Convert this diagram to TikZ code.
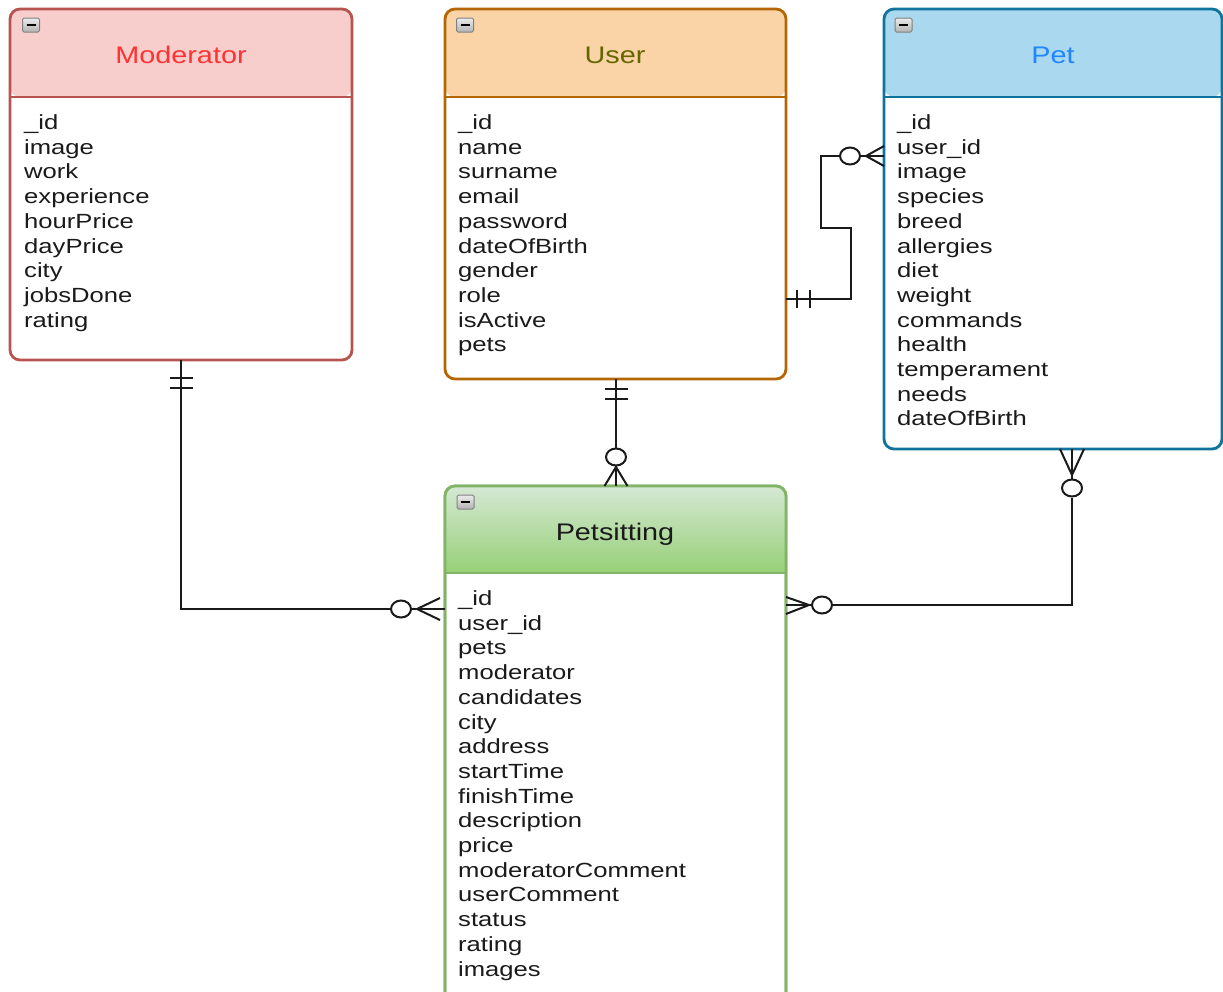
\documentclass[tikz,border=0pt]{standalone}
\usepackage{fontspec}
\setmainfont{Liberation Sans}[FakeStretch=1.25]
\newfontfamily\titlefont{Liberation Sans}[FakeStretch=1.2]
\usetikzlibrary{shapes.geometric,calc}
\definecolor{modfill}{HTML}{F8CECC}
\definecolor{modline}{HTML}{B85450}
\definecolor{modtext}{HTML}{FF3333}
\definecolor{usrfill}{HTML}{FAD3A6}
\definecolor{usrline}{HTML}{B46504}
\definecolor{usrtext}{HTML}{666600}
\definecolor{petfill}{HTML}{AAD8EE}
\definecolor{petline}{HTML}{10739E}
\definecolor{pettext}{HTML}{1F86FF}
\definecolor{pstop}{HTML}{D5E8D4}
\definecolor{psbot}{HTML}{97D077}
\definecolor{psline}{HTML}{82B366}
\definecolor{ink}{HTML}{1A1A1A}
\begin{document}
\begin{tikzpicture}[x=1pt,y=-1pt,
  entity/.style={draw=#1, line width=2.8pt, rounded corners=10pt, fill=white, inner sep=0pt, outer sep=0pt, anchor=north west},
  hdr/.style={path picture={\fill[#1] (path picture bounding box.north west) rectangle ([yshift=-88pt]path picture bounding box.north east);}},
  field/.style={anchor=base west, inner sep=0pt, font=\fontsize{20.5}{24.7}\selectfont, text=ink},
  ttl/.style={anchor=base, inner sep=0pt, font=\titlefont\fontsize{24}{28}\selectfont},
  rel/.style={line width=2pt, draw=ink},
  ring/.style={ellipse, draw=ink, line width=2pt, fill=white, minimum width=20pt, minimum height=17pt, inner sep=0pt},
  minusicon/.style={draw=black!50, line width=1pt, rounded corners=1.5pt, top color=gray!15, bottom color=gray!60, minimum width=17pt, minimum height=14pt, inner sep=0pt,
    path picture={\draw[line width=2pt, black] ([xshift=-4.5pt]path picture bounding box.center) -- ([xshift=4.5pt]path picture bounding box.center);}}
]
\useasboundingbox (0,0) rectangle (1223,991);

% ---------- Moderator ----------
\node[entity=modline, hdr=modfill, minimum width=342pt, minimum height=351pt] (mod) at (10,9) {};
\draw[modline, line width=2.5pt] (mod.west |- 0,97) -- (mod.east |- 0,97);
\node[minusicon] (modicon) at (31,25) {};
\node[ttl, text=modtext] (modtitle) at (181,63) {Moderator};
\foreach \t [count=\i] in {\_id,image,work,experience,hourPrice,dayPrice,city,jobsDone,rating}
  \node[field] (modf\i) at (24,{129.5+24.7*(\i-1)}) {\t};

% ---------- User ----------
\node[entity=usrline, hdr=usrfill, minimum width=341pt, minimum height=370pt] (user) at (445,9) {};
\draw[usrline, line width=2.5pt] (user.west |- 0,97) -- (user.east |- 0,97);
\node[minusicon] (usericon) at (465,25) {};
\node[ttl, text=usrtext] (usertitle) at (615,63) {User};
\foreach \t [count=\i] in {\_id,name,surname,email,password,dateOfBirth,gender,role,isActive,pets}
  \node[field] (userf\i) at (458,{129.5+24.7*(\i-1)}) {\t};

% ---------- Pet ----------
\node[entity=petline, hdr=petfill, minimum width=338pt, minimum height=440pt] (pet) at (884,9) {};
\draw[petline, line width=2.5pt] (pet.west |- 0,97) -- (pet.east |- 0,97);
\node[minusicon] (peticon) at (903.5,25) {};
\node[ttl, text=pettext] (pettitle) at (1053,63) {Pet};
\foreach \t [count=\i] in {\_id,user\_id,image,species,breed,allergies,diet,weight,commands,health,temperament,needs,dateOfBirth}
  \node[field] (petf\i) at (897,{129.5+24.7*(\i-1)}) {\t};

% ---------- Petsitting ----------
\node[entity=psline, minimum width=341pt, minimum height=530pt] (ps) at (445,486) {};
\begin{scope}
  \clip[rounded corners=10pt] (ps.north west) rectangle (ps.south east);
  \shade[top color=pstop, bottom color=psbot, middle color=pstop!50!psbot]
    (ps.north west) rectangle ($(ps.north east)+(0,87)$);
\end{scope}
\draw[psline, line width=2.8pt, rounded corners=10pt] (ps.north west) rectangle (ps.south east);
\draw[psline, line width=2.5pt] (ps.west |- 0,573) -- (ps.east |- 0,573);
\node[minusicon] (psicon) at (465.5,502) {};
\node[ttl, text=ink] (pstitle) at (615,540) {Petsitting};
\foreach \t [count=\i] in {\_id,user\_id,pets,moderator,candidates,city,address,startTime,finishTime,description,price,moderatorComment,userComment,status,rating,images}
  \node[field] (psf\i) at (458,{605.5+24.7*(\i-1)}) {\t};

% ---------- User -- Pet (one to zero-or-many) ----------
\node[ring] (r1) at (850,156) {};
\coordinate (j1) at (866,156);
\draw[rel] (user.east |- 0,299) -- (850.5,299) -- (850.5,228) -- (820.5,228) -- (820.5,156) -- (r1.west);
\draw[rel] (r1.east) -- (pet.west |- j1);
\draw[rel] (pet.west |- 0,146) -- (j1) -- (pet.west |- 0,166);
\draw[rel] (797,290) -- (797,308) (810,290) -- (810,308);

% ---------- User -- Petsitting ----------
\node[ring] (r2) at (616,457) {};
\coordinate (j2) at (616,467);
\draw[rel] (user.south -| r2) -- (r2.north);
\draw[rel] (r2.south) -- (ps.north -| r2);
\draw[rel] ($(ps.north -| r2)+(-11.5,0)$) -- (j2) -- ($(ps.north -| r2)+(11.5,0)$);
\draw[rel] (605,389) -- (628,389) (605,399) -- (628,399);

% ---------- Moderator -- Petsitting ----------
\node[ring] (r3) at (401,609) {};
\coordinate (j3) at (417,609);
\draw[rel] (mod.south) -- (mod.south |- r3) -- (r3.west);
\draw[rel] (r3.east) -- (ps.west |- r3);
\draw[rel] (440,598) -- (j3) -- (440,620);
\draw[rel] (170,378) -- (193,378) (170,388) -- (193,388);

% ---------- Pet -- Petsitting ----------
\node[ring] (r4) at (822,605) {};
\node[ring] (r5) at (1072,488) {};
\coordinate (j4) at (809,605);
\coordinate (j5) at (1072,475);
\draw[rel] (ps.east |- r4) -- (r4.west);
\draw[rel] (ps.east |- 0,597) -- (j4) -- (ps.east |- 0,614);
\draw[rel] (r4.east) -- (r5 |- r4) -- (r5.south);
\draw[rel] (r5.north) -- (pet.south -| r5);
\draw[rel] ($(pet.south -| r5)+(-12,0)$) -- (j5) -- ($(pet.south -| r5)+(12,0)$);
\end{tikzpicture}
\end{document}
